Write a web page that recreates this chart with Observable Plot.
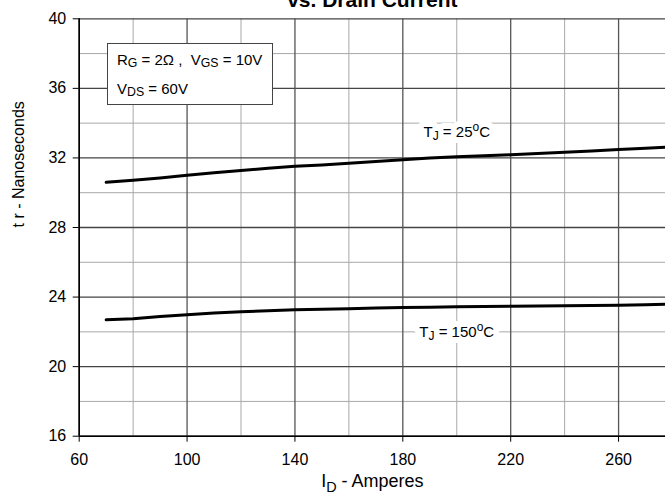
<!DOCTYPE html>
<html>
<head>
<meta charset="utf-8">
<script src="https://cdn.jsdelivr.net/npm/d3@7"></script>
<script src="https://cdn.jsdelivr.net/npm/@observablehq/plot@0.6"></script>
<style>
  html, body { margin: 0; padding: 0; background: white; }
  #wrap { position: relative; width: 665px; height: 497px; font-family: "Liberation Sans", Arial, sans-serif; }
  #note { position: absolute; left: 107px; top: 43px; width: 166px; height: 62px; border: 1px solid #444; background: white; box-sizing: border-box; font-size: 15px; color: #000; }
  #note div { position: absolute; left: 9px; white-space: pre; }
  #note sub { font-size: 82%; vertical-align: -0.2em; line-height: 0; }
</style>
</head>
<body>
<div id="wrap"></div>
<script>
// Drain current (A)
const idAmps = [70, 80, 90, 100, 110, 120, 130, 140, 150, 160, 170, 180, 190, 200, 210, 220, 230, 240, 250, 260, 270, 277.4];
// Rise time t_r (ns) at TJ = 25°C
const tr25 = [30.6, 30.72, 30.85, 31.0, 31.15, 31.28, 31.4, 31.52, 31.6, 31.7, 31.8, 31.9, 32.0, 32.07, 32.12, 32.18, 32.25, 32.33, 32.4, 32.48, 32.55, 32.62];
// Rise time t_r (ns) at TJ = 150°C
const tr150 = [22.69, 22.75, 22.88, 22.98, 23.08, 23.15, 23.22, 23.27, 23.3, 23.33, 23.37, 23.4, 23.42, 23.44, 23.46, 23.47, 23.49, 23.5, 23.52, 23.53, 23.56, 23.59];

const xMajorTicks = [60, 100, 140, 180, 220, 260];
const xMinorTicks = [80, 120, 160, 200, 240, 280];
const yMajorTicks = [16, 20, 24, 28, 32, 36, 40];
const yMinorTicks = [18, 22, 26, 30, 34, 38];

const curveLabels = [
  {text: "T_{J} = 25^{o}C", x: 200, y: 33.5},
  {text: "T_{J} = 150^{o}C", x: 200, y: 22}
];

const rows25 = idAmps.map((x, i) => ({x, y: tr25[i]}));
const rows150 = idAmps.map((x, i) => ({x, y: tr150[i]}));

const chart = Plot.plot({
  width: 665,
  height: 497,
  marginLeft: 78.7,
  marginRight: 0,
  marginTop: 18.3,
  marginBottom: 61.3,
  style: {fontFamily: "Liberation Sans, Arial, sans-serif", fontSize: "16px", color: "#000", background: "white"},
  x: {domain: [60, 277.4]},
  y: {domain: [16, 40]},
  marks: [
    Plot.ruleY(yMinorTicks, {stroke: "#a8a8a8", strokeWidth: 1}),
    Plot.ruleX(xMinorTicks, {stroke: "#a8a8a8", strokeWidth: 1}),
    Plot.ruleY(yMajorTicks, {stroke: "#444", strokeWidth: 1.3}),
    Plot.ruleX(xMajorTicks, {stroke: "#555", strokeWidth: 1.3}),
    Plot.ruleX([60], {stroke: "#000", strokeWidth: 1.6}),
    Plot.ruleY([16], {stroke: "#000", strokeWidth: 1.6}),
    Plot.axisX({ticks: xMajorTicks, tickSize: 6, tickPadding: 11, label: null, fontSize: 16}),
    Plot.axisY({ticks: yMajorTicks, tickSize: 6, tickPadding: 7, label: null, fontSize: 16}),
    Plot.line(rows25, {x: "x", y: "y", stroke: "#000", strokeWidth: 3}),
    Plot.line(rows150, {x: "x", y: "y", stroke: "#000", strokeWidth: 3}),
    // white halo behind the curve labels
    Plot.text(curveLabels, {x: "x", y: "y", text: "text", fontSize: 15, fill: "white", stroke: "white", strokeWidth: 12, strokeLinejoin: "round"}),
    Plot.text(curveLabels, {x: "x", y: "y", text: "text", fontSize: 15, fill: "#000"}),
    Plot.text(["I_{D} - Amperes"], {frameAnchor: "bottom", dy: 51, fontSize: 18, fill: "#000"}),
    Plot.text(["t r - Nanoseconds"], {frameAnchor: "left", rotate: -90, dx: -60, fontSize: 16, fill: "#000"}),
    Plot.text(["vs. Drain Current"], {frameAnchor: "top", dy: -27, fontSize: 21, fontWeight: "bold", fill: "#000"})
  ]
});

// Rich text: _{..} subscript, ^{..} superscript
function richify(el) {
  const s = el.textContent;
  if (!/[_^]\{/.test(s)) return;
  el.textContent = "";
  const re = /([_^])\{([^}]*)\}/g;
  let last = 0, m, shift = 0;
  const add = (t, kind) => {
    if (!t) return;
    const ts = document.createElementNS("http://www.w3.org/2000/svg", "tspan");
    ts.textContent = t;
    const target = kind === "sub" ? 0.25 : kind === "sup" ? -0.4 : 0;
    if (kind) ts.setAttribute("font-size", "80%");
    const d = target - shift;
    if (d !== 0) ts.setAttribute("dy", (kind ? d / 0.8 : d) + "em");
    shift = target;
    el.appendChild(ts);
  };
  while ((m = re.exec(s))) {
    add(s.slice(last, m.index), null);
    add(m[2], m[1] === "_" ? "sub" : "sup");
    last = re.lastIndex;
  }
  add(s.slice(last), null);
}
d3.select(chart).selectAll("text").each(function() { richify(this); });

const wrap = document.getElementById("wrap");
wrap.appendChild(chart);
const note = document.createElement("div");
note.id = "note";
note.innerHTML = '<div style="top:7px">R<sub>G</sub> = 2Ω ,  V<sub>GS</sub> = 10V</div><div style="top:36px">V<sub>DS</sub> = 60V</div>';
wrap.appendChild(note);
</script>
</body>
</html>
